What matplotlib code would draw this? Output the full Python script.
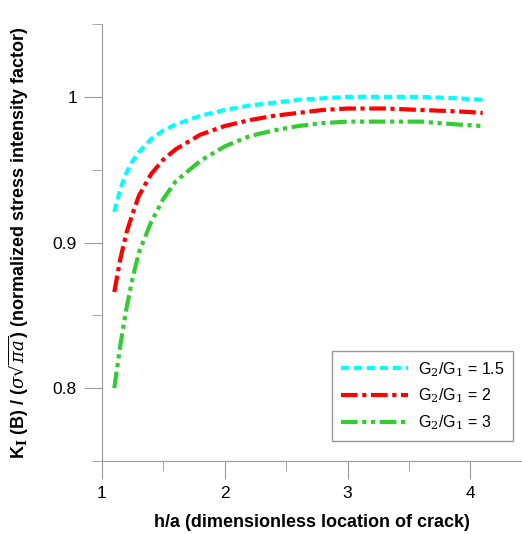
import numpy as np
import matplotlib.pyplot as plt
from matplotlib.ticker import MultipleLocator

plt.rcParams['font.family'] = ['Liberation Sans', 'DejaVu Sans']
plt.rcParams['mathtext.fontset'] = 'dejavuserif'

#Values
h_a = [1.1, 1.15, 1.2, 1.25, 1.3, 1.4, 1.5, 1.6, 1.8, 2.0, 2.2, 2.4, 2.6, 2.8, 3.0, 3.3, 3.6, 3.9, 4.1]
k_15 = [0.921, 0.937, 0.948, 0.956, 0.962, 0.971, 0.977, 0.981, 0.987, 0.991, 0.994, 0.996,
        0.998, 0.999, 1.000, 1.000, 1.000, 0.999, 0.998]
k_2 = [0.866, 0.889, 0.907, 0.920, 0.932, 0.947, 0.957, 0.964, 0.974, 0.980, 0.984, 0.987,
       0.989, 0.991, 0.992, 0.992, 0.991, 0.990, 0.989]
k_3 = [0.800, 0.830, 0.855, 0.876, 0.893, 0.914, 0.930, 0.942, 0.956, 0.966, 0.973, 0.977,
       0.980, 0.982, 0.983, 0.983, 0.983, 0.981, 0.980]
labels = [r'G$_2$/G$_1$ = 1.5', r'G$_2$/G$_1$ = 2', r'G$_2$/G$_1$ = 3']

fig = plt.figure(figsize=(5.22, 5.34), dpi=100)
ax = fig.add_axes([0.1954, 0.1367, 0.8046, 0.8183])

ax.plot(h_a, k_15, color='#00ffff', lw=3, dashes=(2, 1.1), label=labels[0])
ax.plot(h_a, k_2, color='#ff0000', lw=3, dashes=(4, 1.1, 1, 1.1), label=labels[1])
ax.plot(h_a, k_3, color='#33cc33', lw=3, dashes=(4, 1.1, 1, 1.1, 1, 1.1), label=labels[2])

ax.set_xlim(1, 4.42)
ax.set_ylim(0.75, 1.05)
ax.xaxis.set_major_locator(MultipleLocator(1))
ax.xaxis.set_minor_locator(MultipleLocator(0.5))
ax.yaxis.set_minor_locator(MultipleLocator(0.05))
ax.set_yticks([0.8, 0.9, 1.0])
ax.set_yticklabels(['0.8', '0.9', '1'])

for s in ['top', 'right']:
    ax.spines[s].set_visible(False)
for s in ['left', 'bottom']:
    ax.spines[s].set_color('#999999')
ax.tick_params(which='major', length=13, color='#999999', labelsize=12.5, pad=5)
ax.tick_params(which='minor', length=7, color='#999999')

ax.set_xlabel('h/a (dimensionless location of crack)', fontsize=13, fontweight='bold', labelpad=9)
ax.set_ylabel(r'K$_{\mathbf{I}}$ (B) / ($\sigma\sqrt{\pi a}$) (normalized stress intensity factor)',
              fontsize=13, fontweight='bold', labelpad=16)

leg = ax.legend(loc='lower right', bbox_to_anchor=(0.979, 0.046), borderaxespad=0, fontsize=11.5,
                handlelength=4.2, fancybox=False, framealpha=1, edgecolor='#999999',
                borderpad=0.55, labelspacing=0.5, handletextpad=0.6)
leg.get_frame().set_linewidth(1)

fig.savefig('out.png', dpi=100)
